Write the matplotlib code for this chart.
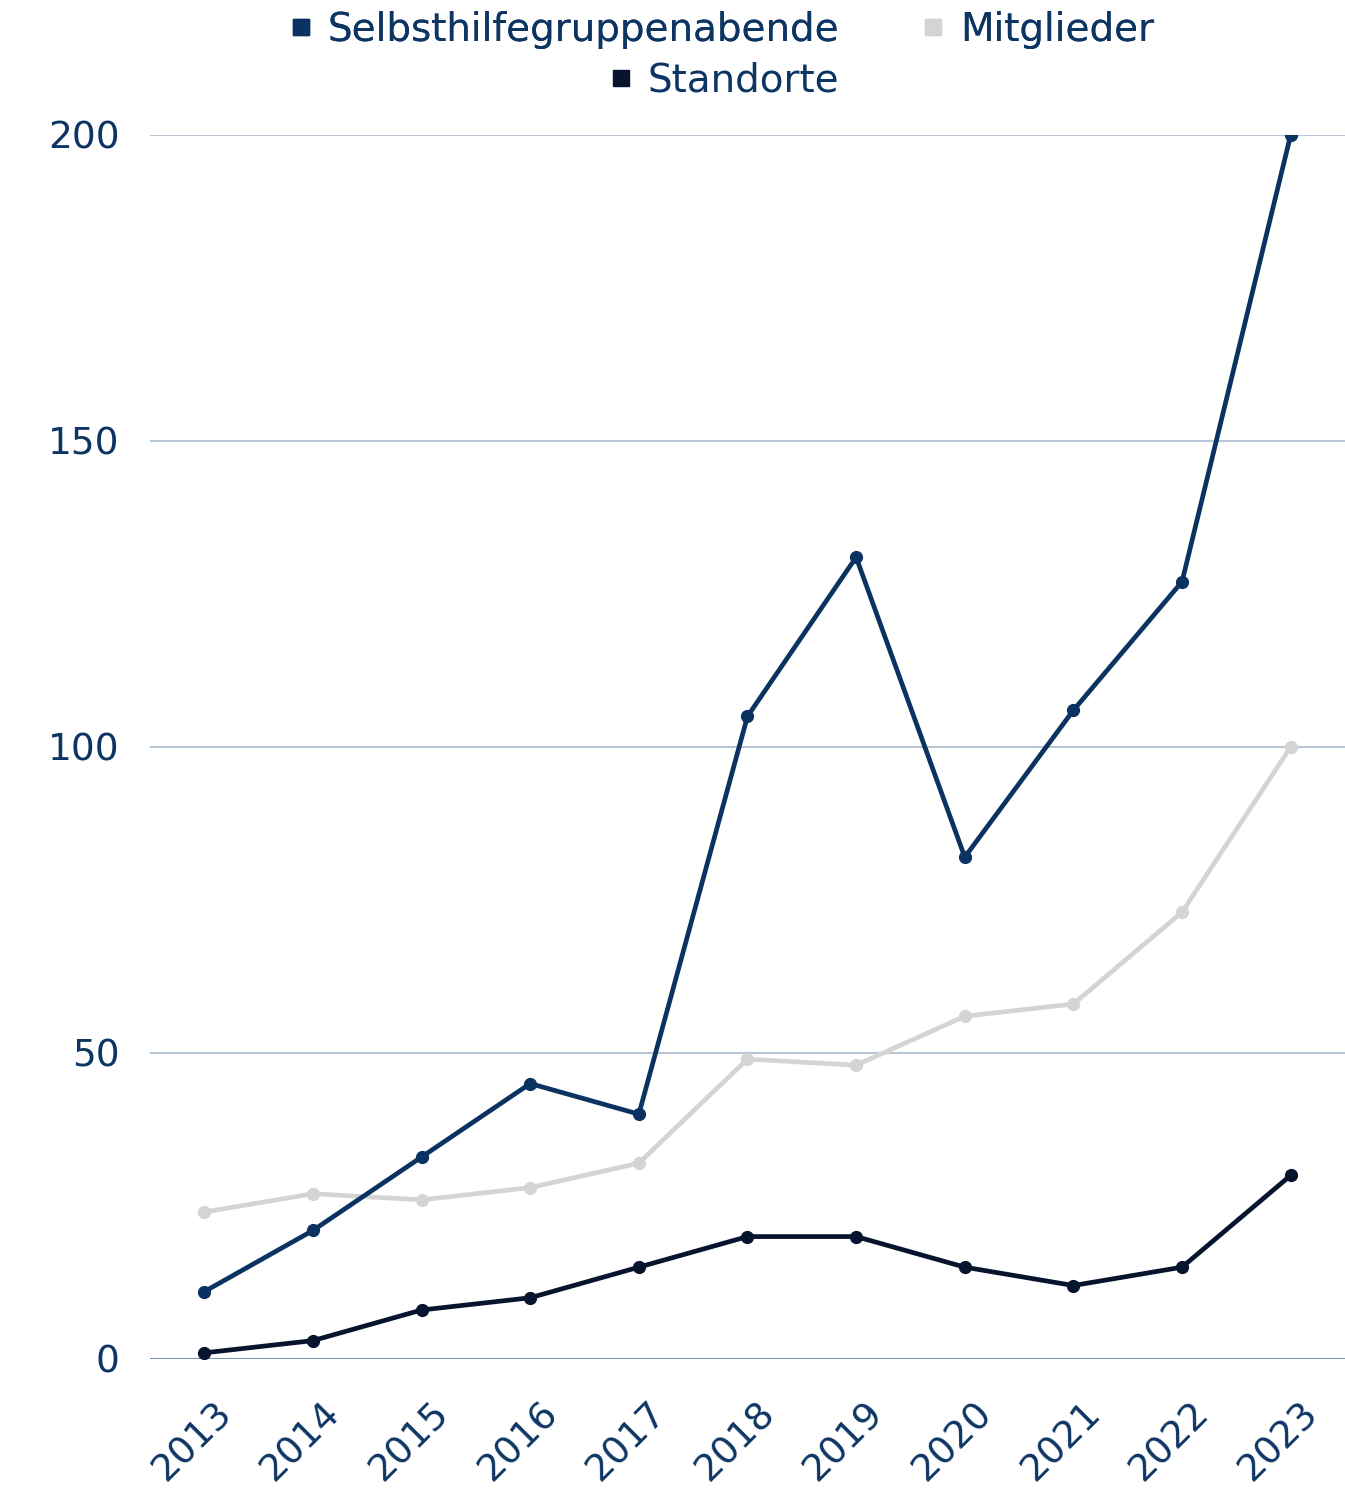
import numpy as np
import matplotlib
matplotlib.use("Agg")
from matplotlib import pyplot as plt
from matplotlib.lines import Line2D
import matplotlib.transforms as mtransforms

plt.rcParams['font.family'] = ['DejaVu Sans']

years = ['2013', '2014', '2015', '2016', '2017', '2018', '2019', '2020', '2021', '2022', '2023']
abende = [11, 21, 33, 45, 40, 105, 131, 82, 106, 127, 200]
mitglieder = [24, 27, 26, 28, 32, 49, 48, 56, 58, 73, 100]
standorte = [1, 3, 8, 10, 15, 20, 20, 15, 12, 15, 30]

navy = '#0b3361'
grey = '#d4d4d4'
dark = '#07142e'
textcol = '#0d3563'

fig = plt.figure(figsize=(13.45, 14.96), dpi=100)
ax = fig.add_axes([0.1115, 0.0916, 0.8885, 0.8182])

x = np.arange(len(years))
ax.plot(x, mitglieder, color=grey, lw=3.4, marker='o', ms=8.5, zorder=3)
ax.plot(x, abende, color=navy, lw=3.4, marker='o', ms=8.5, zorder=4)
ax.plot(x, standorte, color=dark, lw=3.4, marker='o', ms=8.5, zorder=5)

ax.set_xlim(-0.5, len(years) - 0.5)
ax.set_ylim(0, 200)
ax.set_yticks([0, 50, 100, 150, 200])
ax.grid(axis='y', color='#b9c6d6', lw=1.5)
ax.axhline(0, color='#6581a0', lw=1.8, zorder=2)
ax.set_axisbelow(True)
for s in ax.spines.values():
    s.set_visible(False)
ax.tick_params(length=0, labelsize=27, colors=textcol, pad=0)
ax.tick_params(axis='y', pad=22)
ax.set_xticks(x)
ax.set_xticklabels(years, rotation=45, ha='right', va='top', rotation_mode='anchor')
off = mtransforms.ScaledTranslation(0.09, -0.36, fig.dpi_scale_trans)
for lab in ax.get_xticklabels():
    lab.set_transform(lab.get_transform() + off)

def handle(c):
    return Line2D([], [], color=c, marker='s', ls='', ms=12)

leg1 = fig.legend([handle(navy), handle(grey)], ['Selbsthilfegruppenabende', 'Mitglieder'],
                  loc='center', bbox_to_anchor=(0.535, 0.98), ncol=2, frameon=False,
                  fontsize=28, handletextpad=0.3, columnspacing=2.0, handlelength=0.8,
                  labelcolor=textcol)
leg2 = fig.legend([handle(dark)], ['Standorte'],
                  loc='center', bbox_to_anchor=(0.537, 0.946), frameon=False,
                  fontsize=28, handletextpad=0.3, handlelength=0.8, labelcolor=textcol)
fig.add_artist(leg1)

fig.savefig('out.png', dpi=100)
